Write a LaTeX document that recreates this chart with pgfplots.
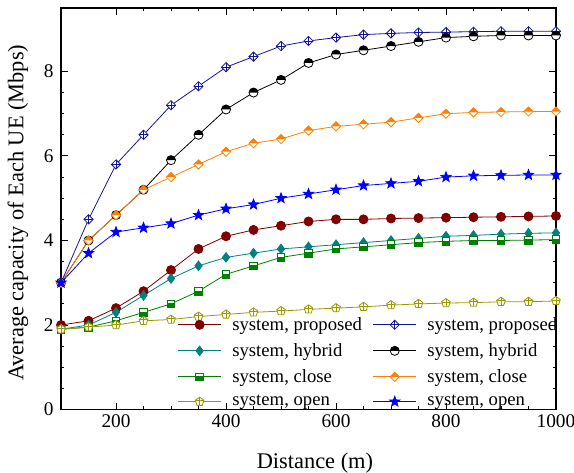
\documentclass[border=0pt]{standalone}
\usepackage{fontspec}
\setmainfont{Liberation Serif}
\usepackage{pgfplots}
\pgfplotsset{compat=1.18}
\usetikzlibrary{plotmarks}
\definecolor{cred}{RGB}{128,0,0}
\definecolor{cteal}{RGB}{0,128,128}
\definecolor{cgreen}{RGB}{0,128,0}
\definecolor{colive}{RGB}{153,153,0}
\definecolor{cnavy}{RGB}{20,20,150}
\definecolor{corange}{RGB}{255,128,0}
\definecolor{cblue}{RGB}{0,0,255}
\pgfdeclareplotmark{dplus}{%
 \pgfpathmoveto{\pgfqpoint{0pt}{1.15\pgfplotmarksize}}%
 \pgfpathlineto{\pgfqpoint{1.15\pgfplotmarksize}{0pt}}%
 \pgfpathlineto{\pgfqpoint{0pt}{-1.15\pgfplotmarksize}}%
 \pgfpathlineto{\pgfqpoint{-1.15\pgfplotmarksize}{0pt}}%
 \pgfpathclose
 \pgfsetfillcolor{white}\pgfusepathqfillstroke
 \pgfpathmoveto{\pgfqpoint{0pt}{1.15\pgfplotmarksize}}%
 \pgfpathlineto{\pgfqpoint{0pt}{-1.15\pgfplotmarksize}}%
 \pgfpathmoveto{\pgfqpoint{-1.15\pgfplotmarksize}{0pt}}%
 \pgfpathlineto{\pgfqpoint{1.15\pgfplotmarksize}{0pt}}%
 \pgfusepathqstroke}
\pgfdeclareplotmark{hcircle}{%
 \pgfpathcircle{\pgfpointorigin}{\pgfplotmarksize}%
 \pgfsetfillcolor{white}\pgfusepathqfill
 \pgfpathmoveto{\pgfqpoint{-\pgfplotmarksize}{0pt}}%
 \pgfpatharc{180}{0}{\pgfplotmarksize}%
 \pgfpathclose
 \pgfsetfillcolor{black}\pgfusepathqfill
 \pgfpathcircle{\pgfpointorigin}{\pgfplotmarksize}%
 \pgfusepathqstroke}
\pgfdeclareplotmark{hdiamond}{%
 \pgfpathmoveto{\pgfqpoint{0pt}{1.15\pgfplotmarksize}}%
 \pgfpathlineto{\pgfqpoint{1.15\pgfplotmarksize}{0pt}}%
 \pgfpathlineto{\pgfqpoint{0pt}{-1.15\pgfplotmarksize}}%
 \pgfpathlineto{\pgfqpoint{-1.15\pgfplotmarksize}{0pt}}%
 \pgfpathclose
 \pgfsetfillcolor{white}\pgfusepathqfill
 \pgfpathmoveto{\pgfqpoint{0pt}{1.15\pgfplotmarksize}}%
 \pgfpathlineto{\pgfqpoint{1.15\pgfplotmarksize}{0pt}}%
 \pgfpathlineto{\pgfqpoint{-1.15\pgfplotmarksize}{0pt}}%
 \pgfpathclose
 \pgfsetfillcolor{corange}\pgfusepathqfill
 \pgfpathmoveto{\pgfqpoint{0pt}{1.15\pgfplotmarksize}}%
 \pgfpathlineto{\pgfqpoint{1.15\pgfplotmarksize}{0pt}}%
 \pgfpathlineto{\pgfqpoint{0pt}{-1.15\pgfplotmarksize}}%
 \pgfpathlineto{\pgfqpoint{-1.15\pgfplotmarksize}{0pt}}%
 \pgfpathclose
 \pgfusepathqstroke}
\pgfdeclareplotmark{hsquare}{%
 \pgfpathrectangle{\pgfqpoint{-0.85\pgfplotmarksize}{-0.85\pgfplotmarksize}}{\pgfqpoint{1.7\pgfplotmarksize}{1.7\pgfplotmarksize}}%
 \pgfsetfillcolor{white}\pgfusepathqfill
 \pgfpathrectangle{\pgfqpoint{-0.85\pgfplotmarksize}{-0.85\pgfplotmarksize}}{\pgfqpoint{1.7\pgfplotmarksize}{1.0\pgfplotmarksize}}%
 \pgfsetfillcolor{cgreen}\pgfusepathqfill
 \pgfpathrectangle{\pgfqpoint{-0.85\pgfplotmarksize}{-0.85\pgfplotmarksize}}{\pgfqpoint{1.7\pgfplotmarksize}{1.7\pgfplotmarksize}}%
 \pgfusepathqstroke}
\pgfdeclareplotmark{pplus}{%
 \pgfpathmoveto{\pgfpointpolar{90}{\pgfplotmarksize}}%
 \pgfpathlineto{\pgfpointpolar{162}{\pgfplotmarksize}}%
 \pgfpathlineto{\pgfpointpolar{234}{\pgfplotmarksize}}%
 \pgfpathlineto{\pgfpointpolar{306}{\pgfplotmarksize}}%
 \pgfpathlineto{\pgfpointpolar{18}{\pgfplotmarksize}}%
 \pgfpathclose
 \pgfsetfillcolor{white}\pgfusepathqfillstroke
 \pgfpathmoveto{\pgfqpoint{0pt}{\pgfplotmarksize}}%
 \pgfpathlineto{\pgfqpoint{0pt}{-0.8\pgfplotmarksize}}%
 \pgfpathmoveto{\pgfqpoint{-0.95\pgfplotmarksize}{0.2\pgfplotmarksize}}%
 \pgfpathlineto{\pgfqpoint{0.95\pgfplotmarksize}{0.2\pgfplotmarksize}}%
 \pgfusepathqstroke}
\pgfdeclareplotmark{fstar}{%
 \pgfpathmoveto{\pgfpointpolar{90}{\pgfplotmarksize}}%
 \pgfpathlineto{\pgfpointpolar{126}{0.42\pgfplotmarksize}}%
 \pgfpathlineto{\pgfpointpolar{162}{\pgfplotmarksize}}%
 \pgfpathlineto{\pgfpointpolar{198}{0.42\pgfplotmarksize}}%
 \pgfpathlineto{\pgfpointpolar{234}{\pgfplotmarksize}}%
 \pgfpathlineto{\pgfpointpolar{270}{0.42\pgfplotmarksize}}%
 \pgfpathlineto{\pgfpointpolar{306}{\pgfplotmarksize}}%
 \pgfpathlineto{\pgfpointpolar{342}{0.42\pgfplotmarksize}}%
 \pgfpathlineto{\pgfpointpolar{18}{\pgfplotmarksize}}%
 \pgfpathlineto{\pgfpointpolar{54}{0.42\pgfplotmarksize}}%
 \pgfpathclose
 \pgfsetfillcolor{cblue}\pgfusepathqfillstroke}
\begin{document}
\begin{tikzpicture}
\begin{axis}[
  scale only axis, width=371pt, height=301pt,
  xmin=100, xmax=1000, ymin=0, ymax=9.5,
  xtick={200,400,600,800,1000}, ytick={0,2,4,6,8},
  minor x tick num=3, minor y tick num=3,
  tick align=inside, major tick length=5pt, minor tick length=2.5pt,
  axis line style={line width=0.9pt}, every tick/.style={black, line width=0.7pt},
  tick label style={font=\fontsize{14.5}{16}\selectfont},
  yticklabel style={xshift=-2pt},
  /pgf/number format/assume math mode=true,
  /pgf/number format/set thousands separator={},
  xlabel={Distance (m)}, ylabel={Average capacity of Each UE (Mbps)},
  every axis x label/.style={at={(axis description cs:0.513,-0.134)}, anchor=center, font=\fontsize{16.8}{19}\selectfont},
  every axis y label/.style={at={(axis description cs:-0.087,0.49)}, rotate=90, anchor=center, font=\fontsize{16.8}{19}\selectfont},
  legend columns=2,
  legend style={draw=none, fill=none, at={(0.235,0.237)}, anchor=north west,
    font=\fontsize{14}{15}\selectfont, /tikz/column sep=6pt, /tikz/row sep=4.3pt,
    inner sep=0pt},
  legend cell align=left,
  legend image code/.code={\draw[mark repeat=2,mark phase=2] plot coordinates {(0cm,0cm)(0.57cm,0cm)(1.14cm,0cm)};},
  every axis plot/.append style={line width=0.6pt, mark size=3.4pt},
]
\addplot[cred, mark=*, mark options={fill=cred}] coordinates {
(100,2.0)(150,2.1)(200,2.4)(250,2.8)(300,3.3)(350,3.8)(400,4.1)(450,4.25)(500,4.35)(550,4.45)(600,4.5)(650,4.5)(700,4.52)(750,4.53)(800,4.54)(850,4.55)(900,4.56)(950,4.57)(1000,4.58)};
\addlegendentry{system, proposed}
\addplot[cnavy, mark=dplus, mark size=3pt] coordinates {
(100,3.0)(150,4.5)(200,5.8)(250,6.5)(300,7.2)(350,7.65)(400,8.1)(450,8.35)(500,8.6)(550,8.72)(600,8.8)(650,8.87)(700,8.9)(750,8.92)(800,8.93)(850,8.94)(900,8.95)(950,8.95)(1000,8.95)};
\addlegendentry{system, proposed}
\addplot[cteal, mark=diamond*, mark options={fill=cteal}, mark size=3.6pt] coordinates {
(100,1.9)(150,2.0)(200,2.3)(250,2.7)(300,3.1)(350,3.4)(400,3.6)(450,3.7)(500,3.8)(550,3.85)(600,3.9)(650,3.95)(700,4.0)(750,4.05)(800,4.1)(850,4.12)(900,4.15)(950,4.17)(1000,4.18)};
\addlegendentry{system, hybrid}
\addplot[black, mark=hcircle] coordinates {
(100,3.0)(150,4.0)(200,4.6)(250,5.2)(300,5.9)(350,6.5)(400,7.1)(450,7.5)(500,7.8)(550,8.2)(600,8.4)(650,8.5)(700,8.6)(750,8.7)(800,8.8)(850,8.83)(900,8.85)(950,8.85)(1000,8.85)};
\addlegendentry{system, hybrid}
\addplot[cgreen, mark=hsquare] coordinates {
(100,1.9)(150,1.95)(200,2.1)(250,2.3)(300,2.5)(350,2.8)(400,3.2)(450,3.4)(500,3.6)(550,3.7)(600,3.8)(650,3.85)(700,3.9)(750,3.95)(800,3.98)(850,4.0)(900,4.0)(950,4.01)(1000,4.02)};
\addlegendentry{system, close}
\addplot[corange, mark=hdiamond, mark size=3pt] coordinates {
(100,3.0)(150,4.0)(200,4.6)(250,5.2)(300,5.5)(350,5.8)(400,6.1)(450,6.3)(500,6.4)(550,6.6)(600,6.7)(650,6.75)(700,6.8)(750,6.9)(800,7.0)(850,7.03)(900,7.04)(950,7.05)(1000,7.05)};
\addlegendentry{system, close}
\addplot[colive, mark=pplus] coordinates {
(100,1.9)(150,1.95)(200,2.0)(250,2.1)(300,2.13)(350,2.2)(400,2.25)(450,2.3)(500,2.33)(550,2.37)(600,2.4)(650,2.43)(700,2.47)(750,2.5)(800,2.52)(850,2.53)(900,2.55)(950,2.55)(1000,2.57)};
\addlegendentry{system, open}
\addplot[cblue, mark=fstar, mark size=4pt] coordinates {
(100,3.0)(150,3.7)(200,4.2)(250,4.3)(300,4.4)(350,4.6)(400,4.75)(450,4.85)(500,5.0)(550,5.1)(600,5.2)(650,5.3)(700,5.35)(750,5.4)(800,5.5)(850,5.53)(900,5.54)(950,5.55)(1000,5.55)};
\addlegendentry{system, open}
\end{axis}
\pgfresetboundingbox
\path[use as bounding box] ([shift={(-45.75pt,-47.25pt)}]current axis.south west) rectangle ([shift={(13.5pt,6pt)}]current axis.north east);
\end{tikzpicture}
\end{document}
